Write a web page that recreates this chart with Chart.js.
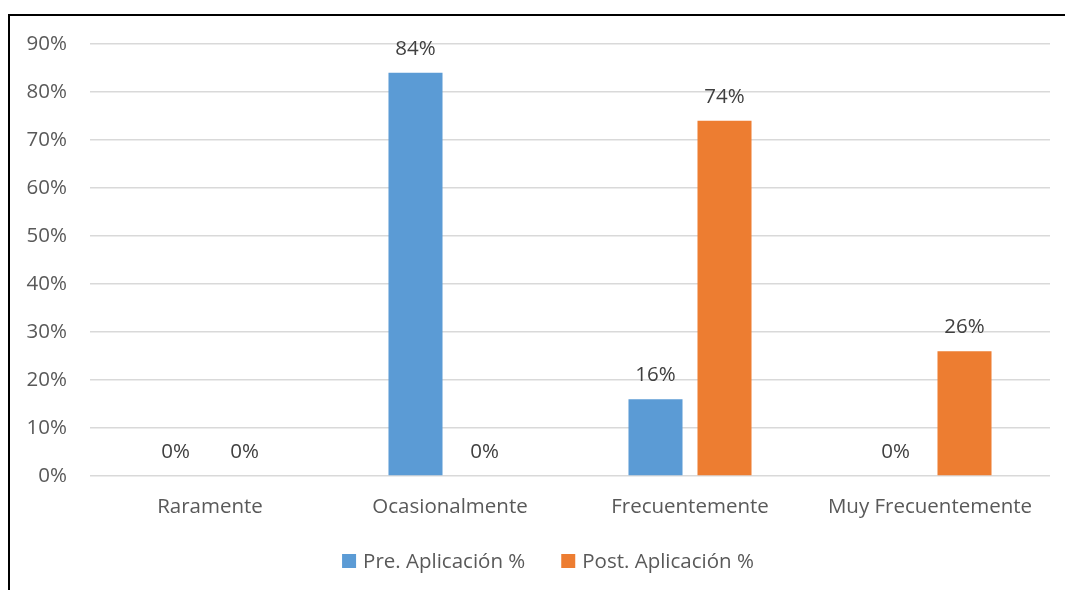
<!DOCTYPE html>
<html>
<head>
<meta charset="utf-8">
<script src="https://cdn.jsdelivr.net/npm/chart.js@4.4.0/dist/chart.umd.min.js"></script>
<style>
  html, body { margin: 0; padding: 0; background: #fff; overflow: hidden; width: 1065px; height: 590px; }
  #wrap { position: relative; width: 1065px; height: 590px; }
  #frame { position: absolute; left: 8px; top: 14px; width: 1100px; height: 620px; border: 2px solid #000; box-sizing: border-box; pointer-events: none; }
  canvas { position: absolute; left: 0; top: 0; }
</style>
</head>
<body>
<div id="wrap">
  <canvas id="c" width="1065" height="590"></canvas>
  <div id="frame"></div>
</div>
<script>
// Response frequency, before and after the intervention (percent)
const categories = ['Raramente', 'Ocasionalmente', 'Frecuentemente', 'Muy Frecuentemente'];
const preValues = [0, 84, 16, 0];
const postValues = [0, 0, 74, 26];
const seriesNames = ['Pre. Aplicación %', 'Post. Aplicación %'];
const yMax = 90;
const yStep = 10;

const FONT = "'Open Sans', 'Noto Sans', sans-serif";
const FONT_SIZE = 20.5;

// Percent labels above every bar, including the zero ones
const valueLabels = {
  id: 'valueLabels',
  afterDatasetsDraw(chart) {
    const ctx = chart.ctx;
    ctx.save();
    ctx.font = `${FONT_SIZE}px ${FONT}`;
    ctx.fillStyle = '#404040';
    ctx.textAlign = 'center';
    ctx.textBaseline = 'middle';
    chart.data.datasets.forEach((ds, i) => {
      const meta = chart.getDatasetMeta(i);
      meta.data.forEach((bar, j) => {
        ctx.fillText(ds.data[j] + '%', bar.x, bar.y - 24);
      });
    });
    ctx.restore();
  }
};

// Centered legend row under the category axis
const bottomLegend = {
  id: 'bottomLegend',
  afterDraw(chart) {
    const ctx = chart.ctx;
    const box = 14, gapText = 7, gapItem = 36;
    const cy = 561, cx = 548;
    ctx.save();
    ctx.font = `${FONT_SIZE}px ${FONT}`;
    ctx.textBaseline = 'middle';
    ctx.textAlign = 'left';
    const items = chart.data.datasets.map(ds => ({
      text: ds.label, color: ds.backgroundColor, w: ctx.measureText(ds.label).width
    }));
    let total = 0;
    items.forEach((it, k) => { total += box + gapText + it.w + (k ? gapItem : 0); });
    let x = cx - total / 2;
    items.forEach(it => {
      ctx.fillStyle = it.color;
      ctx.fillRect(x, cy - box / 2, box, box);
      ctx.fillStyle = '#595959';
      ctx.fillText(it.text, x + box + gapText, cy + 1);
      x += box + gapText + it.w + gapItem;
    });
    ctx.restore();
  }
};

new Chart(document.getElementById('c'), {
  type: 'bar',
  data: {
    labels: categories,
    datasets: [
      { label: seriesNames[0], data: preValues, backgroundColor: '#5B9BD5' },
      { label: seriesNames[1], data: postValues, backgroundColor: '#ED7D31' }
    ]
  },
  options: {
    responsive: false,
    devicePixelRatio: 1,
    animation: false,
    layout: { padding: { top: 44, right: 15, bottom: 54, left: 0 } },
    datasets: { bar: { categoryPercentage: 0.575, barPercentage: 0.783 } },
    plugins: {
      legend: { display: false },
      tooltip: { enabled: false }
    },
    scales: {
      x: {
        grid: { display: false, drawTicks: false },
        border: { display: false },
        ticks: { color: '#595959', font: { family: FONT, size: FONT_SIZE }, padding: 19, maxRotation: 0 },
        afterFit(scale) { scale.height = 60; }
      },
      y: {
        min: 0,
        max: yMax,
        grid: { color: '#D9D9D9', lineWidth: 1.5, drawTicks: false },
        border: { display: false },
        ticks: {
          stepSize: yStep,
          color: '#595959',
          font: { family: FONT, size: FONT_SIZE },
          padding: 23,
          callback: v => v + '%'
        },
        afterFit(scale) { scale.width = 90; }
      }
    }
  },
  plugins: [valueLabels, bottomLegend]
});
</script>
</body>
</html>
